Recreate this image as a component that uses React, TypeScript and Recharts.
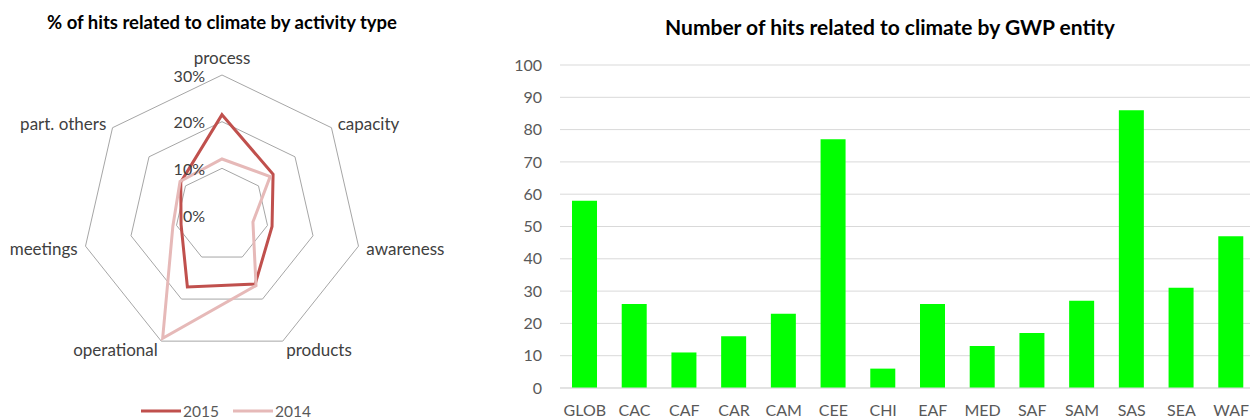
import {
  RadarChart,
  Radar,
  PolarGrid,
  PolarAngleAxis,
  PolarRadiusAxis,
  BarChart,
  Bar,
  XAxis,
  YAxis,
  CartesianGrid,
} from "recharts";

// activity types, clockwise from the top
const activities = ["process", "capacity", "awareness", "products", "operational", "meetings", "part. others"];
const share2015 = [21.5, 14, 11, 16.4, 17.1, 9, 11.3];
const share2014 = [12, 13.2, 6.8, 16.8, 29.3, 10.8, 11.5];
const radiusTicks = [0, 10, 20, 30];

const entities = ["GLOB", "CAC", "CAF", "CAR", "CAM", "CEE", "CHI", "EAF", "MED", "SAF", "SAM", "SAS", "SEA", "WAF"];
const entityHits = [58, 26, 11, 16, 23, 77, 6, 26, 13, 17, 27, 86, 31, 47];
const countTicks = [0, 10, 20, 30, 40, 50, 60, 70, 80, 90, 100];

const FONT = "Lato, 'Open Sans', sans-serif";
const TEXT = "#595959";
const DARK_RED = "#c0504d";
const PINK = "#e6b9b8";

const radarData = activities.map((a, i) => ({ activity: a, y2015: share2015[i], y2014: share2014[i] }));
const barData = entities.map((e, i) => ({ entity: e, hits: entityHits[i] }));

function AngleTick(props: any) {
  const { x, y, textAnchor, payload } = props;
  const dy = textAnchor === "middle" ? -10 : 1;
  return (
    <text x={x} y={y + dy} textAnchor={textAnchor} dominantBaseline="central" fill="#404040" fontSize={17} fontFamily={FONT}>
      {payload.value}
    </text>
  );
}

function RadiusTick(props: any) {
  const { x, y, payload } = props;
  return (
    <text x={x - 17} y={y} textAnchor="end" dominantBaseline="central" fill="#404040" fontSize={16} fontFamily={FONT}>
      {payload.value}%
    </text>
  );
}

export default function App() {
  return (
    <div
      style={{
        position: "fixed",
        left: 0,
        top: 0,
        width: 1250,
        height: 419,
        overflow: "hidden",
        background: "#fff",
        fontFamily: FONT,
      }}
    >
      <div
        style={{
          position: "absolute",
          left: 0,
          width: 444,
          top: 11,
          lineHeight: "22px",
          textAlign: "center",
          fontWeight: 700,
          fontSize: 18.5,
          color: "#000",
        }}
      >
        % of hits related to climate by activity type
      </div>
      <div style={{ position: "absolute", left: 0, top: 0 }}>
        <RadarChart width={460} height={419} cx={222} cy={215} outerRadius={140} data={radarData}>
          <PolarGrid gridType="polygon" radialLines={false} stroke="#a6a6a6" />
          <PolarAngleAxis dataKey="activity" tick={AngleTick} tickLine={false} axisLine={false} />
          <PolarRadiusAxis angle={90} domain={[0, 30]} ticks={radiusTicks as any} tickCount={4} axisLine={false} tick={RadiusTick} />
          <Radar dataKey="y2015" name="2015" stroke={DARK_RED} strokeWidth={3} fill="none" fillOpacity={0} isAnimationActive={false} />
          <Radar dataKey="y2014" name="2014" stroke={PINK} strokeWidth={3} fill="none" fillOpacity={0} isAnimationActive={false} />
        </RadarChart>
      </div>
      <div style={{ position: "absolute", left: 141, top: 401, height: 20, display: "flex", alignItems: "center", fontSize: 15.5, color: TEXT }}>
        <svg width={40} height={6}>
          <line x1={0} y1={3} x2={40} y2={3} stroke={DARK_RED} strokeWidth={3} />
        </svg>
        <span style={{ marginLeft: 2, marginRight: 14 }}>2015</span>
        <svg width={40} height={6}>
          <line x1={0} y1={3} x2={40} y2={3} stroke={PINK} strokeWidth={3} />
        </svg>
        <span style={{ marginLeft: 2 }}>2014</span>
      </div>

      <div
        style={{
          position: "absolute",
          left: 540,
          width: 700,
          top: 15,
          lineHeight: "24px",
          textAlign: "center",
          fontWeight: 700,
          fontSize: 21,
          color: "#000",
        }}
      >
        Number of hits related to climate by GWP entity
      </div>
      <div style={{ position: "absolute", left: 460, top: 0 }}>
        <BarChart width={796} height={419} data={barData} margin={{ top: 65, right: 0, left: 0, bottom: 0 }}>
          <CartesianGrid vertical={false} stroke="#d9d9d9" />
          <XAxis
            dataKey="entity"
            height={31}
            interval={0}
            tickLine={false}
            tickSize={0}
            tickMargin={17}
            axisLine={{ stroke: "#d9d9d9" }}
            tick={{ fill: TEXT, fontSize: 16, fontFamily: FONT }}
          />
          <YAxis
            width={100}
            domain={[0, 100]}
            ticks={countTicks}
            tickLine={false}
            tickSize={0}
            tickMargin={18}
            axisLine={false}
            tick={{ fill: TEXT, fontSize: 16, fontFamily: FONT }}
          />
          <Bar dataKey="hits" fill="#00ff00" barSize={25} isAnimationActive={false} />
        </BarChart>
      </div>
    </div>
  );
}
